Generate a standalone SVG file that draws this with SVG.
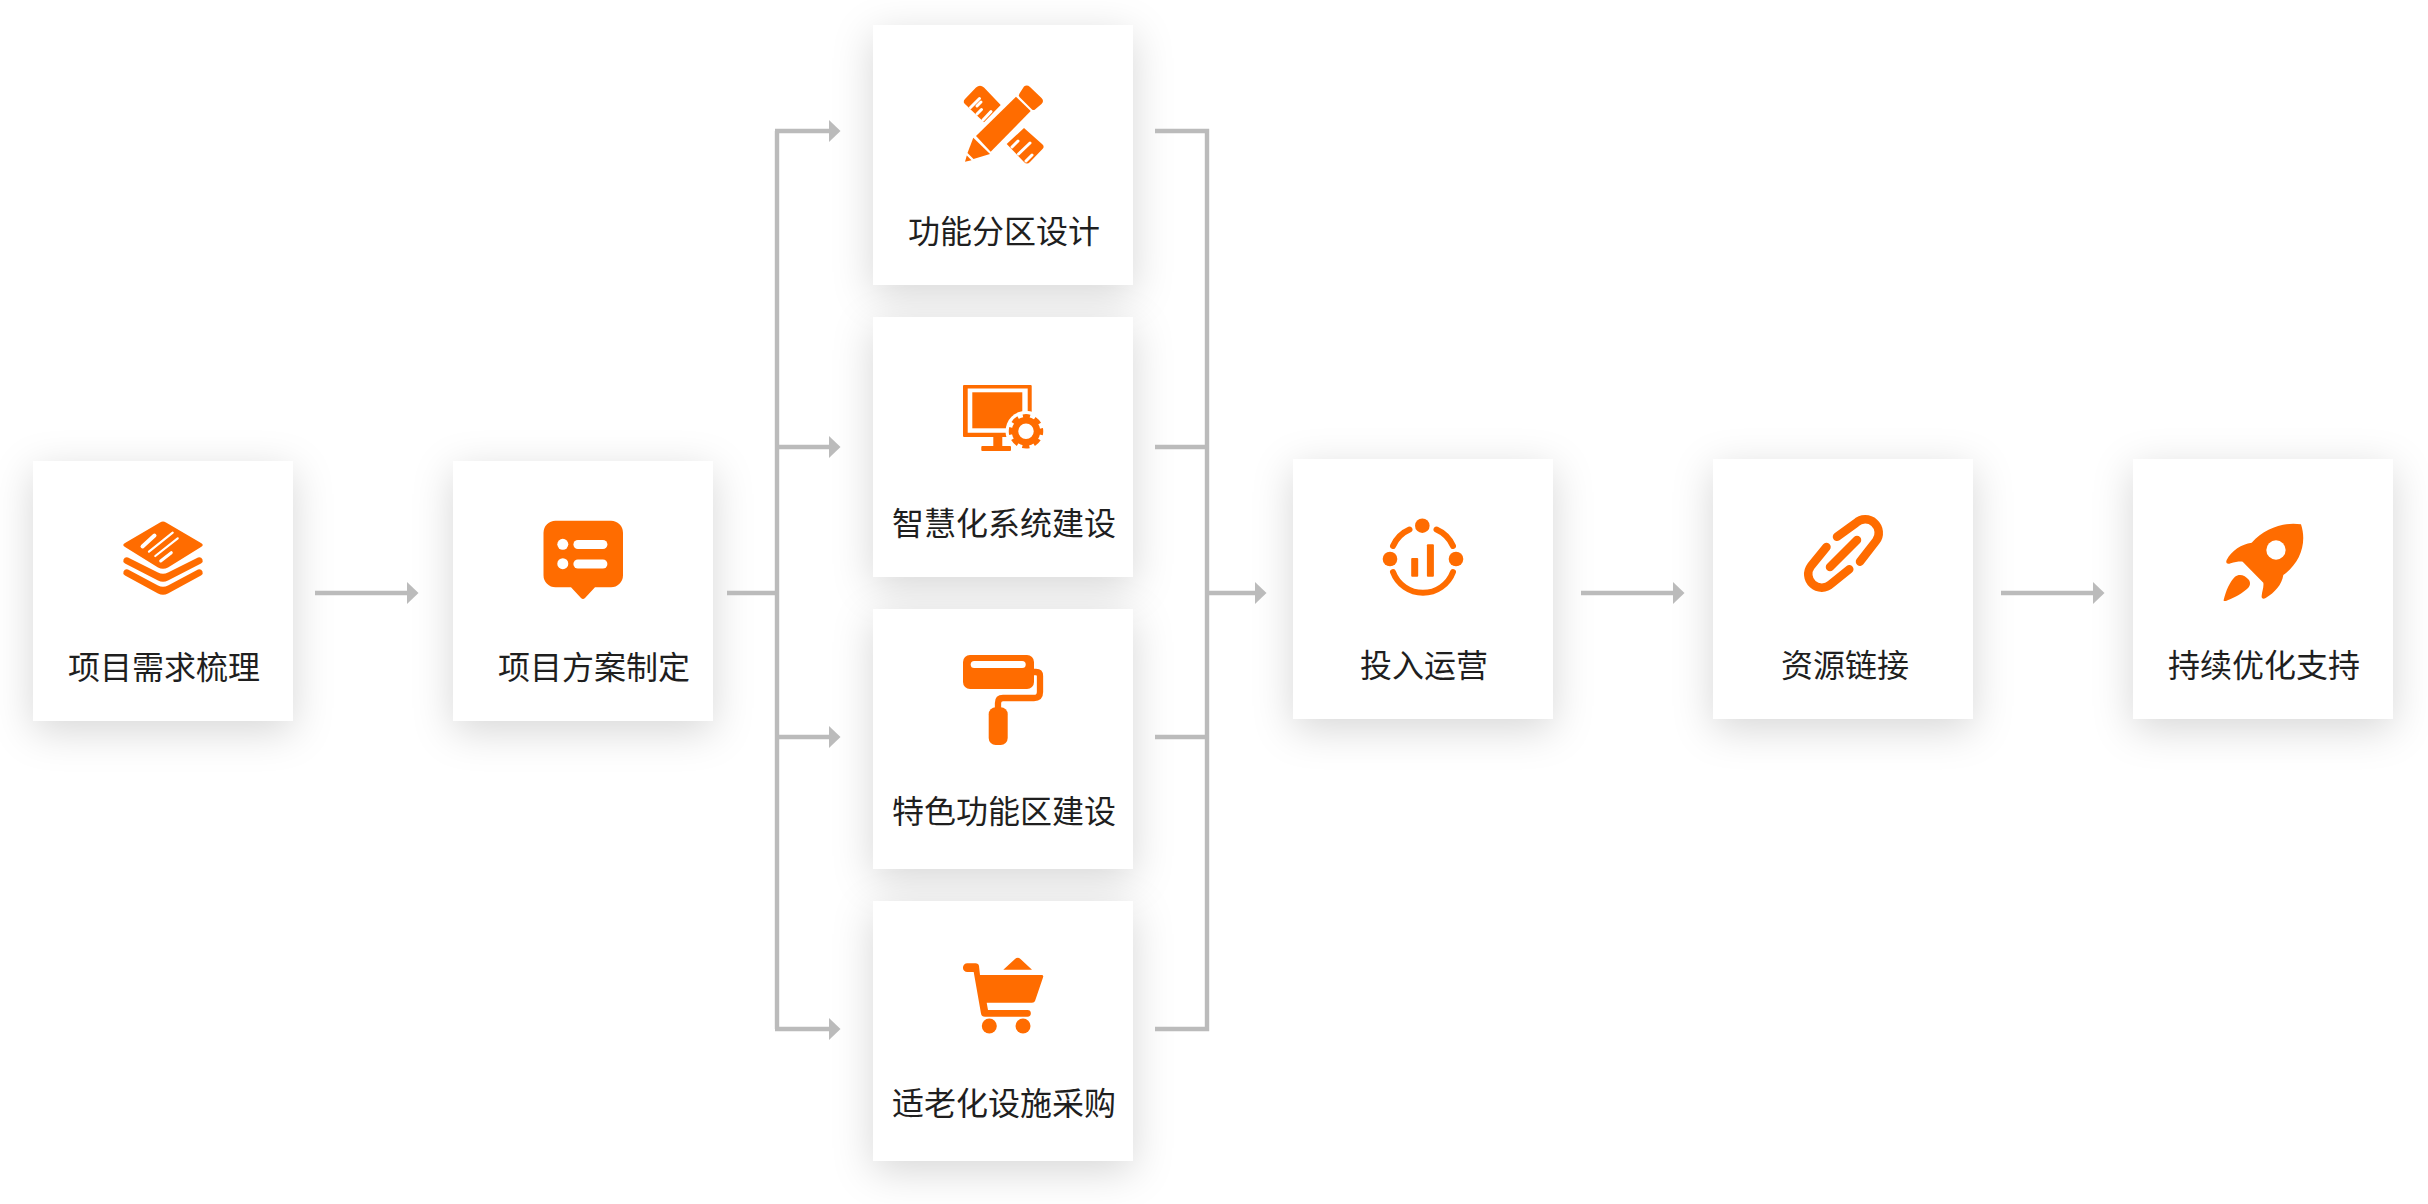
<svg xmlns="http://www.w3.org/2000/svg" width="2428" height="1204" viewBox="0 0 2428 1204">
<style>
.card{fill:#fff;filter:url(#sh)}
.lbl{font-family:"Noto Sans CJK SC","Noto Sans",sans-serif;font-size:32px;fill:#1f1f1f;text-anchor:middle}
.ic{fill:#ff6c00}
.st{fill:none;stroke:#ff6c00;stroke-linecap:round;stroke-linejoin:round}
.w{fill:#fff}
.ws{fill:none;stroke:#fff;stroke-linecap:round}
.c{fill:none;stroke:#bbb;stroke-width:4.400}
.a{marker-end:url(#arr)}
</style>
<defs>
<filter id="sh" x="-40%" y="-40%" width="180%" height="190%"><feDropShadow dx="0" dy="10" stdDeviation="20" flood-color="#000" flood-opacity="0.16"/></filter>
<marker id="arr" markerUnits="userSpaceOnUse" markerWidth="12" markerHeight="24" refX="0" refY="11" orient="auto"><path d="M0 0L11.500 11L0 22Z" fill="#bbb"/></marker>
</defs>
<rect width="2428" height="1204" fill="#fff"/>

<g id="node-xuqiu"><rect class="card" x="33" y="461" width="260" height="260"/>
<path class="ic" d="M160 522.500Q163 520.500 166 522.500L201 543Q204.500 545 201 547L168 567.500Q163 570 158 567.500L125 547Q121.500 545 125 543Z"/>
<path class="ws" stroke-width="4" d="M142.500 546.500L154.500 535.500"/><path class="ws" stroke-width="2.200" d="M149 551.700L172.700 532.700M155.300 556L177.700 538.300"/><path class="ws" stroke-width="3" d="M160.700 561L171.300 552.700"/>
<path class="ic" d="M123.500 559.500Q125 556.500 128 557.500L158 572.500Q163 575 168 572.500L198 557.500Q201 556.500 202.500 559.500Q203.500 561.500 201 563.500L168 580.500Q163 583 158 580.500L125 563.500Q122.500 561.500 123.500 559.500Z"/>
<path class="ic" d="M123.500 571.500Q125 568.500 128 569.500L158 585.500Q163 588 168 585.500L198 569.500Q201 568.500 202.500 571.500Q203.500 573.500 201 575.500L168 593.500Q163 596 158 593.500L125 575.500Q122.500 573.500 123.500 571.500Z"/>
<text class="lbl" x="164" y="679">项目需求梳理</text></g>

<g id="node-fangan"><rect class="card" x="453" y="461" width="260" height="260"/>
<path class="ic" d="M555.500 520.700H611A12 12 0 0 1 623 532.700V575.300A12 12 0 0 1 611 587.300H595L585 598Q583 600 581 598L571 587.300H555.500A12 12 0 0 1 543.500 575.300V532.700A12 12 0 0 1 555.500 520.700Z"/>
<circle class="w" cx="562.800" cy="544.300" r="5.500"/><circle class="w" cx="562.800" cy="563.700" r="5.500"/>
<rect class="w" x="573.400" y="540" width="34" height="9" rx="4.500"/><rect class="w" x="573.400" y="559.500" width="34" height="9" rx="4.500"/>
<text class="lbl" x="594" y="679">项目方案制定</text></g>

<g id="node-gongneng"><rect class="card" x="873" y="25" width="260" height="260"/>
<path class="ic" d="M976 87.500Q980 84 984 87.500L1000.700 105L984 122.300L966 105Q962 102.300 965 99Z"/>
<path class="ic" d="M1024 128L1042 144Q1045 146.500 1042.500 149L1030 162Q1027 165 1024 162L1006.700 144Z"/>
<path class="ws" stroke-width="3" d="M970.500 107.500L979.500 98.500M977 114L981.500 109.500M983 120L991 111.500M977 106L981 102"/>
<path class="ws" stroke-width="3" d="M1012 147L1018 141M1018.500 154L1030 143M1026 161L1032 155"/>
<path class="ic" d="M1024 86.500Q1027 84.500 1030 87L1041.500 98Q1044.500 101 1041.500 104L1035 109.500Q1033.500 110.500 1032 109.500L1019.500 97Q1018 95.500 1019.500 93.500Z"/>
<path class="ic" d="M1016 96.700L1030.700 111L990.700 151.700L976 136Z"/>
<path class="ic" d="M973.300 137.700L990 154L973.500 159L967.500 153Z"/>
<path class="ic" d="M966.800 155.500L971.500 160.300L965 161.700Z"/>
<text class="lbl" x="1004" y="243">功能分区设计</text></g>

<g id="node-zhihui"><rect class="card" x="873" y="317" width="260" height="260"/>
<path class="ic" fill-rule="evenodd" d="M964 385H1030.700Q1031.700 385 1031.700 386V436Q1031.700 437 1030.700 437H964Q963 437 963 436V386Q963 385 964 385ZM967.700 388.500V432.700H1027.700V388.500Z"/>
<rect class="ic" x="972.300" y="392.300" width="50" height="36"/>
<path class="ic" d="M993.300 437H1002.300V446H1010Q1011 446 1011 447V450Q1011 451 1010 451H982.300Q981.300 451 981.300 450V447Q981.300 446 982.300 446H993.300Z"/>
<circle class="w" cx="1026" cy="431.300" r="20.500"/>
<circle class="st" cx="1026" cy="431.300" r="11" stroke-width="6.500"/>
<circle cx="1026" cy="431.300" r="15" fill="none" stroke="#ff6c00" stroke-width="4.500" stroke-dasharray="7 4.780" stroke-dashoffset="3.500"/>
<text class="lbl" x="1004" y="535">智慧化系统建设</text></g>

<g id="node-tese"><rect class="card" x="873" y="609" width="260" height="260"/>
<rect class="ic" x="963" y="655" width="71" height="34" rx="7"/><rect class="w" x="970.700" y="661" width="55" height="7" rx="3.500"/>
<path class="st" stroke-width="6.300" stroke-linecap="butt" stroke-linejoin="round" d="M1034 672H1036Q1040 672 1040 676V692Q1040 698 1034 698H1003Q998 698 998 703V710"/>
<rect class="ic" x="988.700" y="707.300" width="19" height="37.700" rx="7"/>
<text class="lbl" x="1004" y="823">特色功能区建设</text></g>

<g id="node-shilao"><rect class="card" x="873" y="901" width="260" height="260"/>
<path class="ic" d="M1003.300 969.700L1015 959Q1017.700 956.500 1020.500 959L1032 969.700Z"/>
<path class="ic" d="M967.300 963.300H975.500Q978.500 963.300 979 966L980 975H1041.500Q1044 975 1043 977.500L1035 1001Q1034.500 1002.700 1032 1002.700H986.700L988 1010H1027.500A3.300 3.300 0 0 1 1027.500 1016.700H985Q981.500 1016.700 981 1013.500L973.700 972H967.300A4.350 4.350 0 0 1 967.300 963.300Z"/>
<circle class="ic" cx="989.300" cy="1026" r="7.500"/><circle class="ic" cx="1023" cy="1026" r="7.500"/>
<text class="lbl" x="1004" y="1115">适老化设施采购</text></g>

<g id="node-yunying"><rect class="card" x="1293" y="459" width="260" height="260"/>
<circle class="ic" cx="1422.300" cy="525.700" r="7.300"/><circle class="ic" cx="1390" cy="559" r="7.300"/><circle class="ic" cx="1456" cy="559" r="7.300"/>
<path class="st" stroke-width="6" d="M1393 546A32 32 0 0 1 1409.500 529.500M1436.500 529.500A32 32 0 0 1 1453 546M1393 572A32 32 0 0 0 1453 572"/>
<rect class="ic" x="1411.200" y="558" width="7" height="18.700" rx="1"/><rect class="ic" x="1426.900" y="544.300" width="7" height="32.400" rx="1"/>
<text class="lbl" x="1424" y="677">投入运营</text></g>

<g id="node-ziyuan"><rect class="card" x="1713" y="459" width="260" height="260"/>
<path class="st" stroke-width="8.500" d="M1826.500 547L1811 566A13.500 13.500 0 0 0 1831 584L1849.300 569.300M1830 567L1857 540M1837 536.700L1856 523A13.500 13.500 0 0 1 1876 541L1860 561.700"/>
<text class="lbl" x="1845" y="677">资源链接</text></g>

<g id="node-youhua"><rect class="card" x="2133" y="459" width="260" height="260"/>
<g transform="translate(2200 500) scale(.3333)"><path class="ic" d="M303 73C250 65 195 85 155 128C125 133 95 150 80 180C76 190 82 194 92 190C105 186 118 184 128 185L190 248C192 262 186 275 185 288C184 296 190 298 197 294C225 277 245 255 250 225C300 190 322 130 303 73Z"/><circle class="w" cx="228" cy="150" r="29"/><path class="ic" d="M71 300C78 270 90 245 105 230C118 220 135 225 147 240C153 250 150 260 140 268C120 285 95 297 78 303C72 304 70 303 71 300Z"/></g>
<text class="lbl" x="2264" y="677">持续优化支持</text></g>

<g id="connectors">
<path class="c a" d="M315 593H407"/>
<path class="c" d="M727 593H777"/>
<path class="c" d="M777 131V1029"/>
<path class="c a" d="M775 131H829"/>
<path class="c a" d="M777 447H829"/>
<path class="c a" d="M777 737H829"/>
<path class="c a" d="M775 1029H829"/>
<path class="c" d="M1155 131H1207V1029H1155M1155 447H1207M1155 737H1207"/>
<path class="c a" d="M1207 593H1255"/>
<path class="c a" d="M1581 593H1673"/>
<path class="c a" d="M2001 593H2093"/>
</g>
</svg>
